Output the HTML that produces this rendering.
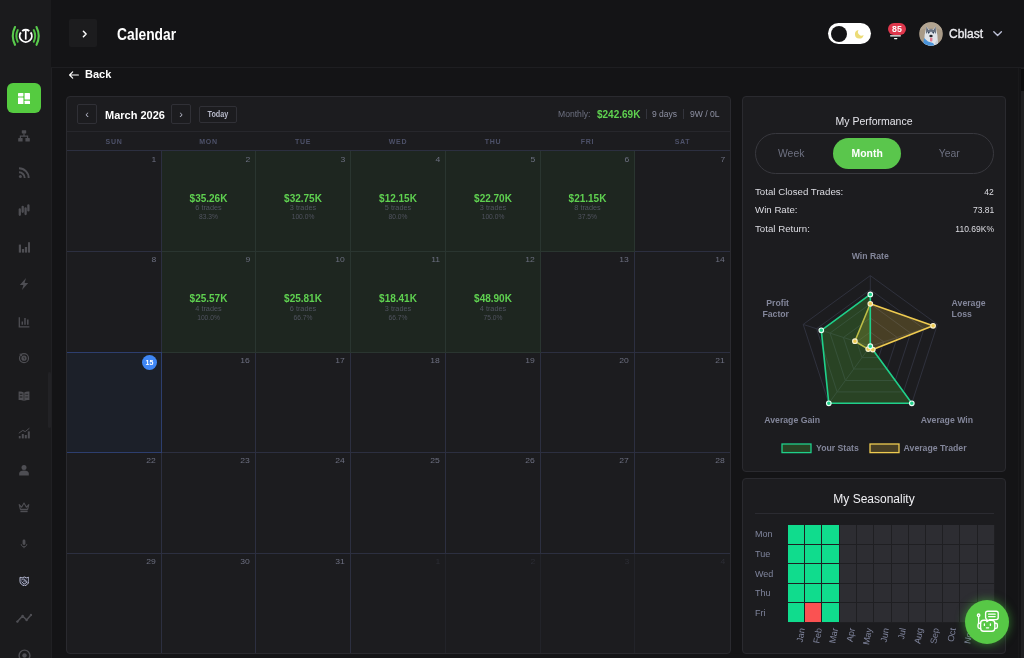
<!DOCTYPE html>
<html lang="en">
<head>
<meta charset="utf-8">
<title>Calendar</title>
<style>
*{box-sizing:border-box;margin:0;padding:0}
html,body{width:1024px;height:658px;overflow:hidden;background:#141416;font-family:"Liberation Sans",sans-serif;color:#fff}
.abs{position:absolute}
#app{position:relative;width:1024px;height:658px;overflow:hidden;background:#141416;will-change:transform}
/* sidebar */
#side{position:absolute;left:0;top:0;width:51px;height:658px;background:#1b1b1d}
#sideb{position:absolute;left:51px;top:68px;width:1px;height:590px;background:#202023}
.nav{position:absolute;left:14px;width:20px;height:20px}
.nav svg{width:20px;height:20px;display:block}
#navact{position:absolute;left:7px;top:83px;width:34px;height:30px;border-radius:6px;background:#55cb40}
/* header */
#hdr{position:absolute;left:51px;top:0;width:973px;height:68px;border-bottom:1px solid #1e1e21}
#tog{position:absolute;left:69px;top:19px;width:28px;height:28px;background:#1c1c1e;border-radius:2px}
#title{position:absolute;left:117px;top:25.5px;font-size:15.6px;font-weight:700;line-height:18px;white-space:nowrap;transform-origin:0 50%;transform:scaleX(.885)}
/* calendar */
#cal{position:absolute;left:66px;top:96px;width:665px;height:558px;background:#1c1c1f;border:1px solid #2a2a2f;border-radius:4px;overflow:hidden}
.cbtn{position:absolute;top:7px;width:20px;height:19.5px;border:1px solid #303036;border-radius:2px;color:#b4b6c6;font-size:11px;line-height:18px;text-align:center}
.wd{position:absolute;top:34.5px;height:19px;font-size:7px;font-weight:700;letter-spacing:.7px;color:#4d5169;text-align:center;line-height:19px}
.cell{position:absolute;border-right:1px solid #2c2f40;border-bottom:1px solid #2c2f40}
.cell .n{position:absolute;right:5px;top:3.2px;font-size:7.8px;line-height:10px;color:#6c6f80;transform-origin:100% 50%;transform:scaleX(1.1)}
.cell.g{background:#1e2620;border-color:#2a3530}
.cell.o .n{color:#2c2d35}
.cell.o{border-right-color:#222329}
.amt{position:absolute;left:0;right:0;top:41px;text-align:center;font-size:10px;font-weight:700;color:#5fd150;line-height:12px}
.tr{position:absolute;left:0;right:0;top:52.3px;text-align:center;font-size:7.3px;color:#50535f;line-height:8px}
.pc{position:absolute;left:0;right:0;top:61.3px;text-align:center;font-size:6.7px;color:#50535f;line-height:8px}
/* right cards */
.card{position:absolute;left:742px;width:264px;background:#1c1c1f;border:1px solid #2a2a2f;border-radius:4px}
.st{position:absolute;left:12px;right:11px;font-size:9.7px;line-height:12px;color:#dcdce2}
.st b{font-weight:400;position:absolute;right:0;top:0;transform-origin:100% 50%;transform:scaleX(.88)}
.rl{position:absolute;font-size:8.7px;font-weight:700;color:#83869a;line-height:11px;white-space:nowrap}
.dl{position:absolute;left:12px;font-size:9px;color:#7f849c;line-height:12px}
.ml{position:absolute;width:40px;text-align:right;font-size:9px;color:#7f849c;line-height:10px;white-space:nowrap;transform-origin:100% 50%;transform:rotate(-80deg)}
</style>
</head>
<body>
<div id="app">

<!-- SIDEBAR -->
<div id="side">
  <svg class="abs" style="left:9px;top:20px" width="34" height="34" viewBox="0 0 34 34">
<g fill="none" stroke-linecap="butt">
<path d="M21.64 12.34 A 6.05 6.05 0 1 1 11.86 12.34" stroke="#fff" stroke-width="1.9"/>
<path d="M13.19 11.01 A 6.05 6.05 0 0 1 20.31 11.01" stroke="#fff" stroke-width="1.9"/>
<path d="M16.75 10.4 V19.6" stroke="#fff" stroke-width="1.7"/>
<g stroke-linecap="round">
<path d="M8.76 21.77 A 13.4 13.4 0 0 1 8.76 10.03" stroke="#4fbf43" stroke-width="2"/>
<path d="M24.74 10.03 A 13.4 13.4 0 0 1 24.74 21.77" stroke="#4fbf43" stroke-width="2"/>
<path d="M6.00 24.82 A 20 20 0 0 1 6.00 6.98" stroke="#5acb4d" stroke-width="2.1"/>
<path d="M27.50 6.98 A 20 20 0 0 1 27.50 24.82" stroke="#5acb4d" stroke-width="2.1"/>
</g></g></svg>
  <div id="navact"></div>
  <svg class="abs" style="left:18px;top:92.5px" width="12" height="11.5" viewBox="0 0 12 11.5"><g fill="#fff"><rect x="0" y="0" width="5.4" height="3.4" rx=".6"/><rect x="0" y="4.5" width="5.4" height="7" rx=".6"/><rect x="6.6" y="0" width="5.4" height="6.6" rx=".6"/><rect x="6.6" y="7.7" width="5.4" height="3.8" rx=".6"/></g></svg>
  <svg class="abs" style="left:18px;top:129.5px" width="12" height="12" viewBox="0 0 12 12"><g fill="#4e4e53"><rect x="3.8" y="0.3" width="4.4" height="3.2" rx=".4"/><rect x="0.2" y="8" width="4.4" height="3.6" rx=".4"/><rect x="7.4" y="8" width="4.4" height="3.6" rx=".4"/></g><path d="M6 3.3 V6.2 M2.4 8.3 V6.2 H9.6 V8.3" fill="none" stroke="#4e4e53" stroke-width="1.2"/></svg>
  <svg class="abs" style="left:18px;top:166.7px" width="12" height="12" viewBox="0 0 12 12"><g fill="none" stroke="#4e4e53" stroke-width="1.9" stroke-linecap="butt"><path d="M1 1.3 A 9.7 9.7 0 0 1 10.7 11"/><path d="M1 5.3 A 5.7 5.7 0 0 1 6.7 11"/></g><circle cx="2.4" cy="9.6" r="1.5" fill="#4e4e53"/></svg>
  <svg class="abs" style="left:18px;top:203.5px" width="12" height="12" viewBox="0 0 12 12"><g stroke="#4e4e53" stroke-linecap="round" fill="none"><path d="M1.8 5.4 V10.8" stroke-width="2.3"/><path d="M4.7 2.8 V7.8" stroke-width="2.3"/><path d="M7.6 4.4 V10" stroke-width="2.3"/><path d="M10.4 1.4 V6.4" stroke-width="2.3"/></g></svg>
  <svg class="abs" style="left:18px;top:241px" width="12" height="12" viewBox="0 0 12 12"><g fill="#4e4e53"><rect x="0.8" y="3.6" width="2.2" height="8"/><rect x="3.9" y="8" width="2.2" height="3.6"/><rect x="6.9" y="6" width="2.2" height="5.6"/><rect x="10" y="1.2" width="2" height="10.4"/></g></svg>
  <svg class="abs" style="left:18px;top:278px" width="12" height="12" viewBox="0 0 12 12"><path d="M8 0 L1.8 7 H5.4 L4 12 L10.2 5 H6.6 Z" fill="#4e4e53"/></svg>
  <svg class="abs" style="left:18px;top:315.5px" width="12" height="12" viewBox="0 0 12 12"><g fill="none" stroke="#4e4e53"><path d="M1.3 1.2 V10.8 H11.4" stroke-width="1.3"/><path d="M4.3 5.4 V8.8 M7 2 V8.8 M9.8 3.6 V8.8" stroke-width="1.5"/></g></svg>
  <svg class="abs" style="left:18px;top:352px" width="12" height="12" viewBox="0 0 12 12"><circle cx="6" cy="6.2" r="4.5" fill="none" stroke="#4e4e53" stroke-width="1.2"/><circle cx="6" cy="6.2" r="2.6" fill="#4e4e53"/><path d="M6 4.8 V6.4 L7 7.2" stroke="#1b1b1d" stroke-width=".8" fill="none"/><path d="M1.6 2.2 L3.6 2.2 L3.6 4.2" fill="none" stroke="#4e4e53" stroke-width="1"/></svg>
  <svg class="abs" style="left:18px;top:389.5px" width="12" height="12" viewBox="0 0 12 12"><path d="M0.6 1.6 C2.6 1.2 4.4 1.6 5.7 2.6 V11 C4.4 10.1 2.6 9.8 0.6 10.1 Z M11.4 1.6 C9.4 1.2 7.6 1.6 6.3 2.6 V11 C7.6 10.1 9.4 9.8 11.4 10.1 Z" fill="#4e4e53"/><path d="M1.8 4.3 H4.4 M1.8 7 H4.4" stroke="#1b1b1d" stroke-width="1.1"/><path d="M7.4 4.3 H10.2 M7.4 7 H10.2" stroke="#2a2a2d" stroke-width="1"/></svg>
  <svg class="abs" style="left:18px;top:427px" width="12" height="12" viewBox="0 0 12 12"><g fill="#4e4e53"><rect x="0.8" y="9" width="1.8" height="2.4"/><rect x="3.8" y="7" width="2" height="4.4"/><rect x="6.8" y="8" width="2" height="3.4"/><rect x="9.8" y="4.4" width="2" height="7"/></g><path d="M0.8 6.2 L4.8 3.4 L7.2 4.6 L11.4 1.2" fill="none" stroke="#4e4e53" stroke-width="1"/></svg>
  <svg class="abs" style="left:18px;top:464px" width="12" height="12" viewBox="0 0 12 12"><circle cx="6" cy="3.4" r="2.5" fill="#4e4e53"/><path d="M1.2 11.6 V9.6 C1.2 7.6 3 6.6 6 6.6 C9 6.6 10.8 7.6 10.8 9.6 V11.6 Z" fill="#4e4e53"/></svg>
  <svg class="abs" style="left:18px;top:501px" width="12" height="12" viewBox="0 0 12 12"><path d="M1.2 3.6 L3.6 6.2 L6 2 L8.4 6.2 L10.8 3.6 L9.6 8.4 H2.4 Z" fill="none" stroke="#4e4e53" stroke-width="1.1" stroke-linejoin="round"/><rect x="2.4" y="9.6" width="7.2" height="1.6" fill="#4e4e53"/></svg>
  <svg class="abs" style="left:18px;top:537.5px" width="12" height="12" viewBox="0 0 12 12"><rect x="4.6" y="1.6" width="2.8" height="5.4" rx="1.4" fill="#4e4e53"/><path d="M3.2 6.2 C3.2 9.6 8.8 9.6 8.8 6.2 M6 8.8 V10.2" fill="none" stroke="#4e4e53" stroke-width="1"/></svg>
  <svg class="abs" style="left:18.6px;top:575.6px" width="10.8" height="10.8" viewBox="0 0 12 12"><path d="M1.1 1.4 L3.5 2.1 L6 1.1 L8.5 2.1 L10.9 1.4 V6 C10.9 8.4 8.6 10.1 6 11.1 C3.4 10.1 1.1 8.4 1.1 6 Z" fill="#23242e" stroke="#b7bbd3" stroke-width="1.1" stroke-linejoin="round"/><path d="M3 4.2 C4.4 3 5.8 3.2 6.8 4.4 L9.2 6.6 M3.2 6.6 L5.2 8.6 M5.2 5.6 C5.9 4.8 6.8 5.2 7 6 M5.6 9.2 L8.6 7" fill="none" stroke="#b7bbd3" stroke-width="1" stroke-linecap="round"/></svg>
  <svg class="abs" style="left:16px;top:612px" width="16" height="12" viewBox="0 0 16 12"><path d="M1.4 9.6 L6.6 4 L10.6 8 L15 3" fill="none" stroke="#4e4e53" stroke-width="1.5" stroke-linecap="round" stroke-linejoin="round"/><circle cx="1.4" cy="9.6" r="1.2" fill="#4e4e53"/><circle cx="6.6" cy="4" r="1.2" fill="#4e4e53"/><circle cx="10.6" cy="8" r="1.2" fill="#4e4e53"/><circle cx="15" cy="3" r="1.2" fill="#4e4e53"/></svg>
  <svg class="abs" style="left:17.5px;top:649px" width="13" height="13" viewBox="0 0 13 13"><circle cx="6.5" cy="6.5" r="5.4" fill="none" stroke="#4e4e53" stroke-width="1.4"/><circle cx="6.5" cy="6.5" r="2.2" fill="#4e4e53"/></svg>
  <div class="abs" style="left:48px;top:372px;width:3px;height:56px;background:#222225;border-radius:2px"></div>
</div>

<div id="sideb"></div>
<!-- HEADER -->
<div id="hdr"></div>
<div id="tog"><svg width="28" height="28" viewBox="0 0 28 28"><path d="M14.4 12.3 L17.1 15 L14.4 17.7" fill="none" stroke="#fff" stroke-width="1.5" stroke-linecap="round" stroke-linejoin="round"/></svg></div>
<div id="title">Calendar</div>
<div class="abs" style="left:828px;top:23px;width:43px;height:21px;border-radius:11px;background:#fff"></div>
<div class="abs" style="left:831px;top:25.5px;width:16px;height:16px;border-radius:50%;background:#141416"></div>
<svg class="abs" style="left:853.5px;top:28.5px" width="10.5" height="10.5" viewBox="0 0 12 12"><path d="M5.2 1 A5 5 0 1 0 11 6.8 A4.2 4.2 0 0 1 5.2 1 Z" fill="#ecdc78"/></svg>
<svg class="abs" style="left:888px;top:26px" width="16" height="16" viewBox="0 0 16 16"><path d="M2.6 9.8 H12.4" stroke="#fff" stroke-width="1.2" stroke-linecap="round"/><path d="M6.6 12.6 H8.8" stroke="#fff" stroke-width="1.2" stroke-linecap="round"/></svg>
<div class="abs" style="left:888px;top:23px;width:18px;height:12.4px;border-radius:6.2px;background:#e0374c;color:#fff;font-size:8.8px;font-weight:700;line-height:12.4px;text-align:center;letter-spacing:0">85</div>
<svg class="abs" style="left:919px;top:22px" width="24" height="24" viewBox="0 0 24 24">
<defs><clipPath id="av"><circle cx="12" cy="12" r="11.8"/></clipPath></defs>
<g clip-path="url(#av)">
<rect width="24" height="24" fill="#a89a87"/>
<path d="M0 0 H24 V9 C18 5 6 5 0 9 Z" fill="#b3a592"/>
<path d="M5 24 L5.6 13 L7.4 4.6 L10 7.6 L14 7.6 L16.6 4.6 L18.4 13 L19 24 Z" fill="#dfe3e9"/>
<path d="M7.4 4.6 L9.6 8.6 L7 12 Z M16.6 4.6 L14.4 8.6 L17 12 Z" fill="#596272"/>
<path d="M8.2 8.2 L12 7 L15.8 8.2 L14.4 11.4 L12 9.6 L9.6 11.4 Z" fill="#6a7484"/>
<path d="M4 24 L5 16 L9 19.6 L14 21 L16 24 Z" fill="#4a94da"/>
<path d="M19 24 L18.6 17 L16 21 L16 24 Z" fill="#c9cdd3"/>
<ellipse cx="12" cy="14" rx="1.7" ry="1.3" fill="#22252b"/>
<path d="M11 15.8 H13.4 V18.8 C13.4 19.8 11 19.8 11 18.8 Z" fill="#e27a90"/>
<circle cx="9.6" cy="10.8" r=".8" fill="#2b3b55"/><circle cx="14.4" cy="10.8" r=".8" fill="#2b3b55"/>
</g></svg>
<div class="abs" style="left:949px;top:26.5px;font-size:12px;line-height:15px;color:#ececf0;-webkit-text-stroke:.35px #ececf0;white-space:nowrap">Cblast</div>
<svg class="abs" style="left:992px;top:29px" width="11" height="9" viewBox="0 0 11 9"><path d="M1.8 2.8 L5.6 6.4 L9.4 2.8" fill="none" stroke="#bcc0d6" stroke-width="1.4" stroke-linecap="round" stroke-linejoin="round"/></svg>
<div class="abs" style="left:1018px;top:68px;width:1px;height:590px;background:#19191b"></div>
<div class="abs" style="left:1020.5px;top:68px;width:4px;height:590px;background:#1f1f21"></div>
<div class="abs" style="left:1020.5px;top:69px;width:4px;height:21.5px;background:#0c0c0d"></div>

<!-- BACK -->
<svg class="abs" style="left:68px;top:69.5px" width="12" height="10" viewBox="0 0 12 10"><path d="M1.6 5 H10.4 M4.7 1.9 L1.6 5 L4.7 8.1" fill="none" stroke="#fff" stroke-width="1.15" stroke-linecap="round" stroke-linejoin="round"/></svg>
<div class="abs" style="left:85px;top:68px;font-size:11px;font-weight:700;line-height:13px">Back</div>

<!-- CALENDAR -->
<div id="cal">
  <div class="cbtn" style="left:10px">&#8249;</div>
  <div class="abs" style="left:38px;top:11.5px;font-size:11px;font-weight:700;line-height:13px;white-space:nowrap">March 2026</div>
  <div class="cbtn" style="left:104px">&#8250;</div>
  <div class="abs" style="left:132px;top:9px;width:38px;height:17px;border:1px solid #303036;border-radius:2px;font-size:9px;font-weight:700;color:#b9bbcb;text-align:center;line-height:15px"><span style="display:inline-block;transform:scaleX(.8)">Today</span></div>
  <div class="abs" style="left:491px;top:12px;font-size:8.6px;line-height:10px;color:#6d7080;white-space:nowrap">Monthly:</div>
  <div class="abs" style="left:530px;top:11.5px;font-size:10px;font-weight:700;line-height:12px;color:#5fd150;white-space:nowrap">$242.69K</div>
  <div class="abs" style="left:579px;top:12px;width:1px;height:10px;background:#33343c"></div>
  <div class="abs" style="left:585px;top:12px;font-size:8.5px;line-height:10px;color:#8d90a2;white-space:nowrap">9 days</div>
  <div class="abs" style="left:616px;top:12px;width:1px;height:10px;background:#33343c"></div>
  <div class="abs" style="left:623px;top:12px;font-size:8.6px;line-height:10px;color:#8d90a2;white-space:nowrap">9W / 0L</div>
  <div class="abs" style="left:0;top:34px;width:663px;height:1px;background:#27272c"></div>
  <div class="abs" style="left:0;top:53px;width:663px;height:1px;background:#2c2f40"></div>
  <div class="wd" style="left:-0.5px;width:95px">SUN</div>
  <div class="wd" style="left:94.5px;width:94px">MON</div>
  <div class="wd" style="left:188.5px;width:95px">TUE</div>
  <div class="wd" style="left:283.5px;width:95px">WED</div>
  <div class="wd" style="left:378.5px;width:95px">THU</div>
  <div class="wd" style="left:473.5px;width:94px">FRI</div>
  <div class="wd" style="left:567.5px;width:96px">SAT</div>
  <div class="cell" style="left:0px;top:54px;width:95px;height:101px"><span class="n" style="margin-top:1.2px">1</span></div>
  <div class="cell g" style="left:95px;top:54px;width:94px;height:101px"><span class="n" style="margin-top:1.2px">2</span><div class="amt" style="margin-top:1px">$35.26K</div><div class="tr" style="margin-top:1px">6 trades</div><div class="pc" style="margin-top:1px">83.3%</div></div>
  <div class="cell g" style="left:189px;top:54px;width:95px;height:101px"><span class="n" style="margin-top:1.2px">3</span><div class="amt" style="margin-top:1px">$32.75K</div><div class="tr" style="margin-top:1px">3 trades</div><div class="pc" style="margin-top:1px">100.0%</div></div>
  <div class="cell g" style="left:284px;top:54px;width:95px;height:101px"><span class="n" style="margin-top:1.2px">4</span><div class="amt" style="margin-top:1px">$12.15K</div><div class="tr" style="margin-top:1px">5 trades</div><div class="pc" style="margin-top:1px">80.0%</div></div>
  <div class="cell g" style="left:379px;top:54px;width:95px;height:101px"><span class="n" style="margin-top:1.2px">5</span><div class="amt" style="margin-top:1px">$22.70K</div><div class="tr" style="margin-top:1px">3 trades</div><div class="pc" style="margin-top:1px">100.0%</div></div>
  <div class="cell g" style="left:474px;top:54px;width:94px;height:101px"><span class="n" style="margin-top:1.2px">6</span><div class="amt" style="margin-top:1px">$21.15K</div><div class="tr" style="margin-top:1px">8 trades</div><div class="pc" style="margin-top:1px">37.5%</div></div>
  <div class="cell" style="left:568px;top:54px;width:96px;height:101px"><span class="n" style="margin-top:1.2px">7</span></div>
  <div class="cell" style="left:0px;top:155px;width:95px;height:101px"><span class="n">8</span></div>
  <div class="cell g" style="left:95px;top:155px;width:94px;height:101px"><span class="n">9</span><div class="amt">$25.57K</div><div class="tr" style="margin-top:.6px">4 trades</div><div class="pc" style="margin-top:.6px">100.0%</div></div>
  <div class="cell g" style="left:189px;top:155px;width:95px;height:101px"><span class="n">10</span><div class="amt">$25.81K</div><div class="tr" style="margin-top:.6px">6 trades</div><div class="pc" style="margin-top:.6px">66.7%</div></div>
  <div class="cell g" style="left:284px;top:155px;width:95px;height:101px"><span class="n">11</span><div class="amt">$18.41K</div><div class="tr" style="margin-top:.6px">3 trades</div><div class="pc" style="margin-top:.6px">66.7%</div></div>
  <div class="cell g" style="left:379px;top:155px;width:95px;height:101px"><span class="n">12</span><div class="amt">$48.90K</div><div class="tr" style="margin-top:.6px">4 trades</div><div class="pc" style="margin-top:.6px">75.0%</div></div>
  <div class="cell" style="left:474px;top:155px;width:94px;height:101px"><span class="n">13</span></div>
  <div class="cell" style="left:568px;top:155px;width:96px;height:101px"><span class="n">14</span></div>
  <div class="cell" style="left:0px;top:256px;width:95px;height:100px"><span class="abs" style="right:5px;top:2px;width:15px;height:15px;border-radius:50%;background:#3f86f5;color:#fff;font-size:7px;font-weight:700;line-height:15px;text-align:center">15</span></div>
  <div class="abs" style="left:-1px;top:255px;width:96px;height:101px;background:#1c2029;border:1px solid #2d3e6e"></div>
  <div class="abs" style="left:0px;top:256px;width:95px;height:100px"><span class="abs" style="right:5px;top:2px;width:15px;height:15px;border-radius:50%;background:#3f86f5;color:#fff;font-size:7px;font-weight:700;line-height:15px;text-align:center">15</span></div>
  <div class="cell" style="left:95px;top:256px;width:94px;height:100px"><span class="n">16</span></div>
  <div class="cell" style="left:189px;top:256px;width:95px;height:100px"><span class="n">17</span></div>
  <div class="cell" style="left:284px;top:256px;width:95px;height:100px"><span class="n">18</span></div>
  <div class="cell" style="left:379px;top:256px;width:95px;height:100px"><span class="n">19</span></div>
  <div class="cell" style="left:474px;top:256px;width:94px;height:100px"><span class="n">20</span></div>
  <div class="cell" style="left:568px;top:256px;width:96px;height:100px"><span class="n">21</span></div>
  <div class="cell" style="left:0px;top:356px;width:95px;height:101px"><span class="n">22</span></div>
  <div class="cell" style="left:95px;top:356px;width:94px;height:101px"><span class="n">23</span></div>
  <div class="cell" style="left:189px;top:356px;width:95px;height:101px"><span class="n">24</span></div>
  <div class="cell" style="left:284px;top:356px;width:95px;height:101px"><span class="n">25</span></div>
  <div class="cell" style="left:379px;top:356px;width:95px;height:101px"><span class="n">26</span></div>
  <div class="cell" style="left:474px;top:356px;width:94px;height:101px"><span class="n">27</span></div>
  <div class="cell" style="left:568px;top:356px;width:96px;height:101px"><span class="n">28</span></div>
  <div class="cell" style="left:0px;top:457px;width:95px;height:100px"><span class="n">29</span></div>
  <div class="cell" style="left:95px;top:457px;width:94px;height:100px"><span class="n">30</span></div>
  <div class="cell" style="left:189px;top:457px;width:95px;height:100px"><span class="n">31</span></div>
  <div class="cell o" style="left:284px;top:457px;width:95px;height:100px"><span class="n">1</span></div>
  <div class="cell o" style="left:379px;top:457px;width:95px;height:100px"><span class="n">2</span></div>
  <div class="cell o" style="left:474px;top:457px;width:94px;height:100px"><span class="n">3</span></div>
  <div class="cell o" style="left:568px;top:457px;width:96px;height:100px"><span class="n">4</span></div>
</div>

<!-- PERFORMANCE -->
<div class="card" id="perf" style="top:96px;height:376px">
  <div class="abs" style="left:0;right:0;top:17.5px;text-align:center;font-size:10.5px;line-height:13px;color:#e4e4ea">My Performance</div>
  <div class="abs" style="left:12px;top:36px;width:239px;height:41px;border:1px solid #38383e;border-radius:21px"></div>
  <div class="abs" style="left:90px;top:41px;width:68px;height:31px;border-radius:16px;background:#5ac64c"></div>
  <div class="abs" style="left:18.200000000000045px;width:60px;top:49.5px;text-align:center;font-size:10.4px;line-height:13px;color:#6d7080">Week</div>
  <div class="abs" style="left:94.20000000000005px;width:60px;top:49.5px;text-align:center;font-size:10.4px;line-height:13px;color:#fff;font-weight:700">Month</div>
  <div class="abs" style="left:176.20000000000005px;width:60px;top:49.5px;text-align:center;font-size:10.4px;line-height:13px;color:#6d7080">Year</div>
  <div class="st" style="top:89px">Total Closed Trades:<b>42</b></div>
  <div class="st" style="top:107.30000000000001px">Win Rate:<b>73.81</b></div>
  <div class="st" style="top:126px">Total Return:<b>110.69K%</b></div>
  <svg class="abs" style="left:0px;top:0px" width="262" height="373" viewBox="743 97 262 373"><polygon points="870.3,332.1 883.7,341.8 878.6,357.6 862.0,357.6 856.9,341.8" fill="none" stroke="#2f313d" stroke-width="1"/><polygon points="870.3,318.0 897.2,337.5 886.9,369.0 853.7,369.0 843.4,337.5" fill="none" stroke="#2f313d" stroke-width="1"/><polygon points="870.3,303.8 910.6,333.1 895.2,380.5 845.4,380.5 830.0,333.1" fill="none" stroke="#2f313d" stroke-width="1"/><polygon points="870.3,289.7 924.0,328.7 903.5,391.9 837.1,391.9 816.6,328.7" fill="none" stroke="#2f313d" stroke-width="1"/><polygon points="870.3,275.6 937.4,324.4 911.8,403.3 828.8,403.3 803.2,324.4" fill="none" stroke="#2f313d" stroke-width="1"/><line x1="870.3" y1="346.2" x2="870.3" y2="275.6" stroke="#2f313d" stroke-width="1"/><line x1="870.3" y1="346.2" x2="937.4" y2="324.4" stroke="#2f313d" stroke-width="1"/><line x1="870.3" y1="346.2" x2="911.8" y2="403.3" stroke="#2f313d" stroke-width="1"/><line x1="870.3" y1="346.2" x2="828.8" y2="403.3" stroke="#2f313d" stroke-width="1"/><line x1="870.3" y1="346.2" x2="803.2" y2="324.4" stroke="#2f313d" stroke-width="1"/><polygon points="870.3,303.8 933.1,325.8 872.8,349.6 868.2,349.1 854.9,341.2" fill="rgba(232,190,60,0.22)" stroke="#efcb50" stroke-width="1.6" stroke-linejoin="round"/><polygon points="870.3,294.4 870.3,346.2 911.8,403.3 828.8,403.3 821.3,330.3" fill="rgba(74,160,50,0.30)" stroke="#1fd08a" stroke-width="1.6" stroke-linejoin="round"/><circle cx="870.3" cy="303.8" r="2.3" fill="#efcb50" stroke="#f7f0cf" stroke-width="1.1"/><circle cx="933.1" cy="325.8" r="2.3" fill="#efcb50" stroke="#f7f0cf" stroke-width="1.1"/><circle cx="872.8" cy="349.6" r="2.3" fill="#efcb50" stroke="#f7f0cf" stroke-width="1.1"/><circle cx="868.2" cy="349.1" r="2.3" fill="#efcb50" stroke="#f7f0cf" stroke-width="1.1"/><circle cx="854.9" cy="341.2" r="2.3" fill="#efcb50" stroke="#f7f0cf" stroke-width="1.1"/><circle cx="870.3" cy="294.4" r="2.3" fill="#1fd08a" stroke="#e8fff4" stroke-width="1.1"/><circle cx="870.3" cy="346.2" r="2.3" fill="#1fd08a" stroke="#e8fff4" stroke-width="1.1"/><circle cx="911.8" cy="403.3" r="2.3" fill="#1fd08a" stroke="#e8fff4" stroke-width="1.1"/><circle cx="828.8" cy="403.3" r="2.3" fill="#1fd08a" stroke="#e8fff4" stroke-width="1.1"/><circle cx="821.3" cy="330.3" r="2.3" fill="#1fd08a" stroke="#e8fff4" stroke-width="1.1"/><rect x="782" y="444" width="29" height="8.6" fill="rgba(74,160,50,0.30)" stroke="#1fd08a" stroke-width="1.3"/><rect x="870" y="444" width="29" height="8.6" fill="rgba(232,190,60,0.22)" stroke="#efcb50" stroke-width="1.3"/></svg>
  <div class="rl" style="top:153.5px;left:87.29999999999995px;width:80px;text-align:center">Win Rate</div>
  <div class="rl" style="top:201.10000000000002px;left:-14px;width:60px;text-align:right">Profit</div>
  <div class="rl" style="top:211.7px;left:-14px;width:60px;text-align:right">Factor</div>
  <div class="rl" style="top:201.10000000000002px;left:208.60000000000002px">Average</div>
  <div class="rl" style="top:211.7px;left:208.60000000000002px">Loss</div>
  <div class="rl" style="top:317.7px;left:21.299999999999955px">Average Gain</div>
  <div class="rl" style="top:317.7px;left:177.79999999999995px">Average Win</div>
  <div class="rl" style="top:345.5px;left:73px">Your Stats</div>
  <div class="rl" style="top:345.5px;left:160.60000000000002px">Average Trader</div>
</div>

<!-- SEASONALITY -->
<div class="card" id="seas" style="top:478px;height:176px">
  <div class="abs" style="left:0;right:0;top:13px;text-align:center;font-size:12px;line-height:15px;color:#f0f0f4">My Seasonality</div>
  <div class="abs" style="left:12px;top:34px;width:239px;height:1px;background:#2b2b31"></div>
  <svg class="abs" style="left:0;top:0" width="262" height="174" viewBox="743 479 262 174" shape-rendering="crispEdges"><rect x="788" y="525" width="207" height="98" fill="#1f1f22"/><rect x="788" y="525" width="16" height="19" fill="#10dc8d"/><rect x="805" y="525" width="16" height="19" fill="#10dc8d"/><rect x="822" y="525" width="17" height="19" fill="#10dc8d"/><rect x="840" y="525" width="16" height="19" fill="#2d2d32"/><rect x="857" y="525" width="16" height="19" fill="#2d2d32"/><rect x="874" y="525" width="17" height="19" fill="#2d2d32"/><rect x="892" y="525" width="16" height="19" fill="#2d2d32"/><rect x="909" y="525" width="16" height="19" fill="#2d2d32"/><rect x="926" y="525" width="16" height="19" fill="#2d2d32"/><rect x="943" y="525" width="16" height="19" fill="#2d2d32"/><rect x="960" y="525" width="17" height="19" fill="#2d2d32"/><rect x="978" y="525" width="16" height="19" fill="#2d2d32"/><rect x="788" y="545" width="16" height="18" fill="#10dc8d"/><rect x="805" y="545" width="16" height="18" fill="#10dc8d"/><rect x="822" y="545" width="17" height="18" fill="#10dc8d"/><rect x="840" y="545" width="16" height="18" fill="#2d2d32"/><rect x="857" y="545" width="16" height="18" fill="#2d2d32"/><rect x="874" y="545" width="17" height="18" fill="#2d2d32"/><rect x="892" y="545" width="16" height="18" fill="#2d2d32"/><rect x="909" y="545" width="16" height="18" fill="#2d2d32"/><rect x="926" y="545" width="16" height="18" fill="#2d2d32"/><rect x="943" y="545" width="16" height="18" fill="#2d2d32"/><rect x="960" y="545" width="17" height="18" fill="#2d2d32"/><rect x="978" y="545" width="16" height="18" fill="#2d2d32"/><rect x="788" y="564" width="16" height="19" fill="#10dc8d"/><rect x="805" y="564" width="16" height="19" fill="#10dc8d"/><rect x="822" y="564" width="17" height="19" fill="#10dc8d"/><rect x="840" y="564" width="16" height="19" fill="#2d2d32"/><rect x="857" y="564" width="16" height="19" fill="#2d2d32"/><rect x="874" y="564" width="17" height="19" fill="#2d2d32"/><rect x="892" y="564" width="16" height="19" fill="#2d2d32"/><rect x="909" y="564" width="16" height="19" fill="#2d2d32"/><rect x="926" y="564" width="16" height="19" fill="#2d2d32"/><rect x="943" y="564" width="16" height="19" fill="#2d2d32"/><rect x="960" y="564" width="17" height="19" fill="#2d2d32"/><rect x="978" y="564" width="16" height="19" fill="#2d2d32"/><rect x="788" y="584" width="16" height="18" fill="#10dc8d"/><rect x="805" y="584" width="16" height="18" fill="#10dc8d"/><rect x="822" y="584" width="17" height="18" fill="#10dc8d"/><rect x="840" y="584" width="16" height="18" fill="#2d2d32"/><rect x="857" y="584" width="16" height="18" fill="#2d2d32"/><rect x="874" y="584" width="17" height="18" fill="#2d2d32"/><rect x="892" y="584" width="16" height="18" fill="#2d2d32"/><rect x="909" y="584" width="16" height="18" fill="#2d2d32"/><rect x="926" y="584" width="16" height="18" fill="#2d2d32"/><rect x="943" y="584" width="16" height="18" fill="#2d2d32"/><rect x="960" y="584" width="17" height="18" fill="#2d2d32"/><rect x="978" y="584" width="16" height="18" fill="#2d2d32"/><rect x="788" y="603" width="16" height="19" fill="#10dc8d"/><rect x="805" y="603" width="16" height="19" fill="#fa5252"/><rect x="822" y="603" width="17" height="19" fill="#10dc8d"/><rect x="840" y="603" width="16" height="19" fill="#2d2d32"/><rect x="857" y="603" width="16" height="19" fill="#2d2d32"/><rect x="874" y="603" width="17" height="19" fill="#2d2d32"/><rect x="892" y="603" width="16" height="19" fill="#2d2d32"/><rect x="909" y="603" width="16" height="19" fill="#2d2d32"/><rect x="926" y="603" width="16" height="19" fill="#2d2d32"/><rect x="943" y="603" width="16" height="19" fill="#2d2d32"/><rect x="960" y="603" width="17" height="19" fill="#2d2d32"/><rect x="978" y="603" width="16" height="19" fill="#2d2d32"/></svg>
  <div class="dl" style="top:49.3px">Mon</div>
  <div class="dl" style="top:68.9px">Tue</div>
  <div class="dl" style="top:88.5px">Wed</div>
  <div class="dl" style="top:108.1px">Thu</div>
  <div class="dl" style="top:127.7px">Fri</div>
  <div class="ml" style="left:18.8px;top:144.2px">Jan</div>
  <div class="ml" style="left:35.6px;top:144.2px">Feb</div>
  <div class="ml" style="left:52.4px;top:144.2px">Mar</div>
  <div class="ml" style="left:69.3px;top:144.2px">Apr</div>
  <div class="ml" style="left:86.1px;top:144.2px">May</div>
  <div class="ml" style="left:102.9px;top:144.2px">Jun</div>
  <div class="ml" style="left:119.7px;top:144.2px">Jul</div>
  <div class="ml" style="left:136.5px;top:144.2px">Aug</div>
  <div class="ml" style="left:153.4px;top:144.2px">Sep</div>
  <div class="ml" style="left:170.2px;top:144.2px">Oct</div>
  <div class="ml" style="left:187.0px;top:144.2px">Nov</div>
</div>

<div class="abs" style="left:965.3px;top:599.5px;width:44px;height:44px;border-radius:50%;background:#57c846;box-shadow:0 0 8px 1px rgba(70,190,60,.5)"></div>
<svg class="abs" style="left:975px;top:609px" width="26" height="26" viewBox="0 0 26 26"><g fill="none" stroke="#fff" stroke-width="1.35" stroke-linecap="round" stroke-linejoin="round">
<rect x="5.6" y="11.2" width="14.2" height="11" rx="3"/>
<path d="M9.4 14.8 V16.4 M15.4 14.8 V16.4 M11.4 18.8 H13.6" stroke-width="1.3"/>
<path d="M5.6 14.2 H4.6 C3.6 14.2 3 14.8 3 15.8 V17.8 C3 18.8 3.6 19.4 4.6 19.4 H5.6 M19.8 14.2 H20.8 C21.8 14.2 22.4 14.8 22.4 15.8 V17.8 C22.4 18.8 21.8 19.4 20.8 19.4 H19.8"/>
<path d="M3.6 14 V7.6"/><circle cx="3.6" cy="6.2" r="1.2"/>
<path d="M12.6 2.2 H21.2 C22.4 2.2 23.2 3 23.2 4.2 V8.6 C23.2 9.8 22.4 10.6 21.2 10.6 H14.6 L11.8 12.6 L12 10.4 C11.2 10.2 10.6 9.6 10.6 8.6 V4.2 C10.6 3 11.4 2.2 12.6 2.2 Z" fill="#57c846"/>
<path d="M13.6 5.2 H20.2 M13.6 7.6 H20.2" stroke-width="1.2"/>
</g></svg>
</div>
</body>
</html>
